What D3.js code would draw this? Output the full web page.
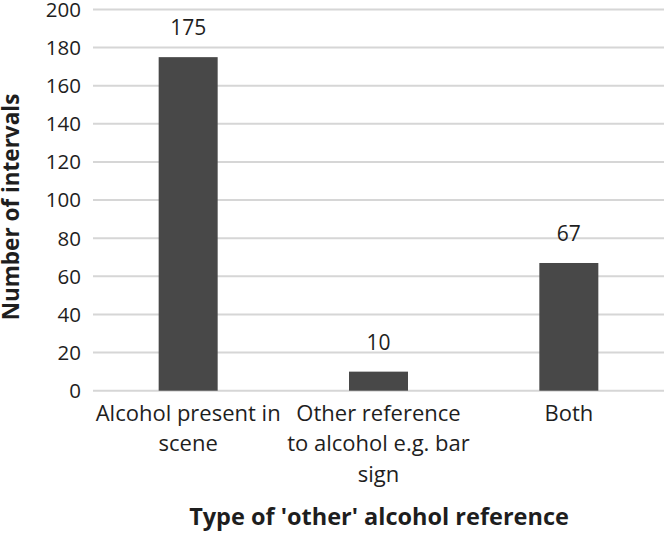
<!DOCTYPE html>
<html>
<head>
<meta charset="utf-8">
<script src="https://cdn.jsdelivr.net/npm/d3@7"></script>
<style>
  body { margin: 0; background: #fff; }
  text { font-family: "Open Sans", Lato, sans-serif; fill: #1e1e1e; }
</style>
</head>
<body>
<div id="canvas"></div>
<script>
// categories and values
const categories = ["Alcohol present in scene", "Other reference to alcohol e.g. bar sign", "Both"];
const categoryLines = [["Alcohol present in", "scene"], ["Other reference", "to alcohol e.g. bar", "sign"], ["Both"]];
const counts = [175, 10, 67];
const yTicks = [0, 20, 40, 60, 80, 100, 120, 140, 160, 180, 200];

const margin = {top: 9.5, right: 2, bottom: 142.3, left: 93},
    width = 666 - margin.left - margin.right,
    height = 533 - margin.top - margin.bottom;

const svg = d3.select("#canvas")
    .append("svg")
    .attr("width", 666)
    .attr("height", 533)
    .append("g")
    .attr("transform", "translate(" + margin.left + "," + margin.top + ")");

const xScale = d3.scaleBand()
    .range([0, width])
    .domain(categories)
    .paddingInner(0.69)
    .paddingOuter(0.345);

const yScale = d3.scaleLinear()
    .range([height, 0])
    .domain([0, 200]);

// gridlines
svg.append("g")
    .selectAll("line")
    .data(yTicks)
    .enter()
    .append("line")
    .attr("x1", 0)
    .attr("x2", width)
    .attr("y1", d => yScale(d))
    .attr("y2", d => yScale(d))
    .style("stroke", "#d6d6d6")
    .style("stroke-width", 2);

// y tick labels
svg.append("g")
    .selectAll("text")
    .data(yTicks)
    .enter()
    .append("text")
    .attr("x", -12)
    .attr("y", d => yScale(d))
    .attr("dy", "0.36em")
    .attr("text-anchor", "end")
    .style("font-size", "20.5px")
    .text(d => d);

// bars
svg.selectAll(".bar")
    .data(counts)
    .enter()
    .append("rect")
    .attr("class", "bar")
    .attr("x", (d, i) => xScale(categories[i]))
    .attr("y", d => yScale(d))
    .attr("width", xScale.bandwidth())
    .attr("height", d => height - yScale(d))
    .style("fill", "#484848");

// value labels
svg.selectAll(".val")
    .data(counts)
    .enter()
    .append("text")
    .attr("class", "val")
    .attr("x", (d, i) => xScale(categories[i]) + xScale.bandwidth() / 2)
    .attr("y", d => yScale(d) - 22)
    .attr("text-anchor", "middle")
    .style("font-size", "21px")
    .text(d => d);

// category labels
categories.forEach((c, i) => {
    const t = svg.append("text")
        .attr("text-anchor", "middle")
        .attr("x", xScale(c) + xScale.bandwidth() / 2)
        .attr("y", height + 30.3)
        .style("font-size", "22px");
    categoryLines[i].forEach((line, j) => {
        t.append("tspan")
            .attr("x", xScale(c) + xScale.bandwidth() / 2)
            .attr("dy", j === 0 ? 0 : 30.3)
            .text(line);
    });
});

// axis titles
svg.append("text")
    .attr("text-anchor", "middle")
    .attr("x", 379 - margin.left)
    .attr("y", height + 134.5)
    .style("font-size", "23.5px")
    .style("font-weight", "bold")
    .text("Type of 'other' alcohol reference");

svg.append("text")
    .attr("text-anchor", "middle")
    .attr("transform", "rotate(-90)")
    .attr("x", -(207 - margin.top))
    .attr("y", -margin.left + 19)
    .style("font-size", "22.5px")
    .style("font-weight", "bold")
    .text("Number of intervals");
</script>
</body>
</html>
